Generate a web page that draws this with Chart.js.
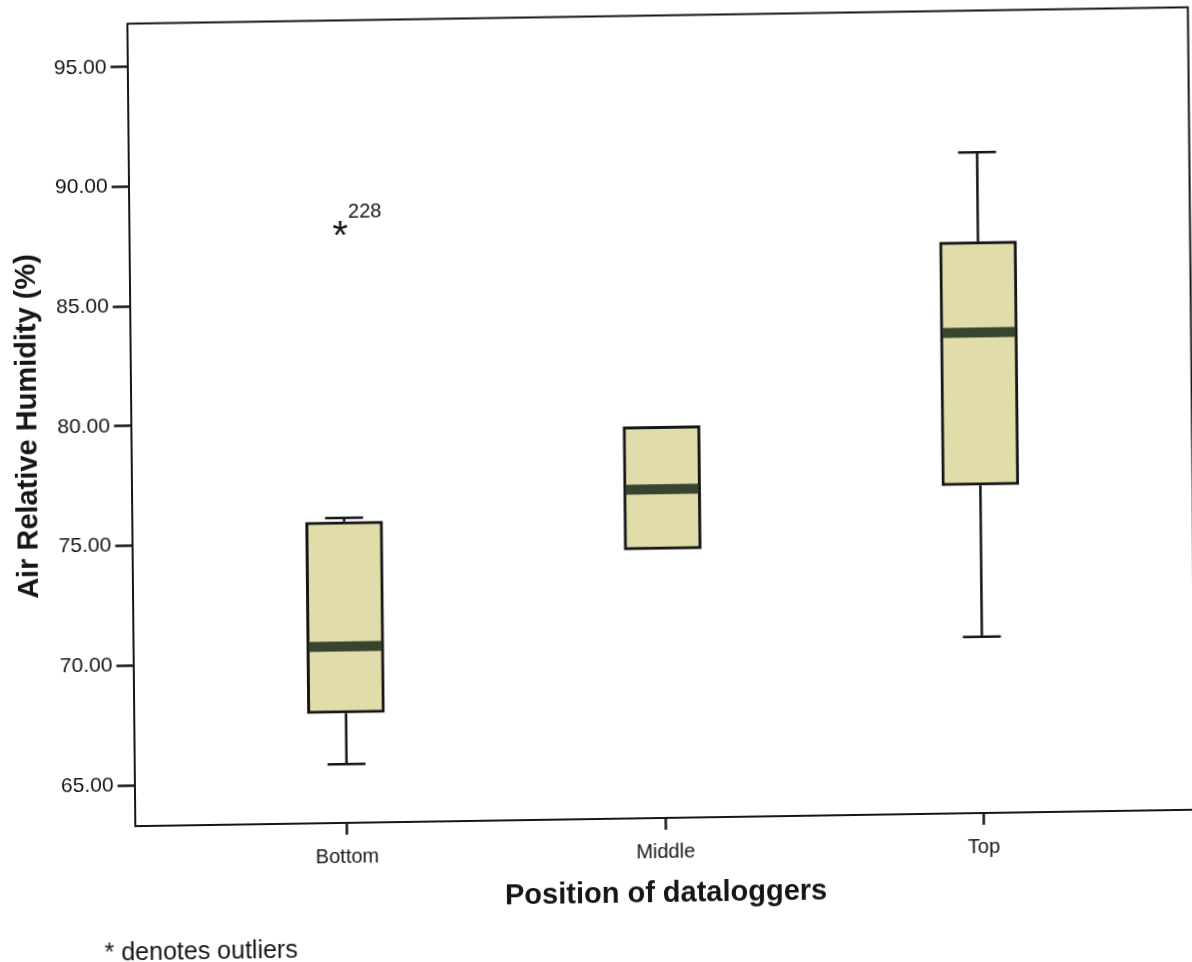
<!DOCTYPE html>
<html><head><meta charset="utf-8">
<script src="https://cdn.jsdelivr.net/npm/chart.js@4.4.1/dist/chart.umd.min.js"></script>
<style>
html,body{margin:0;padding:0;background:#fff;overflow:hidden;width:1192px;height:962px;}
#wrap{position:absolute;left:0;top:0;width:1200px;height:962px;transform-origin:596px 481px;transform:matrix(1,-0.0155,0.0099,1,0,0);}
canvas{display:block;}
</style></head><body>
<div id="wrap"><canvas id="c" width="1200" height="962"></canvas></div>
<script>
// ---- data ----
const categories = ['Bottom', 'Middle', 'Top'];
const whiskerMin = [65.75, 74.51, 70.65];
const q1 = [67.88, 74.51, 76.98];
const median = [70.66, 77.02, 83.36];
const q3 = [75.87, 79.65, 87.15];
const whiskerMax = [76.03, 79.65, 90.88];
const outlierCategory = [0];
const outlierValue = [87.98];
const outlierLabel = ['228'];
const yTicks = [65, 70, 75, 80, 85, 90, 95];
const xTicks = [0, 1, 2];

const FONT = '"Liberation Sans", Arial, Helvetica, sans-serif';
const INK = '#161616';
const BOX_W = 77;
const CAP_W = 38;

const boxPlugin = {
  id: 'boxparts',
  beforeDatasetsDraw(chart) {
    const {ctx, scales: {x, y}} = chart;
    ctx.save();
    ctx.strokeStyle = INK;
    ctx.lineWidth = 2.5;
    categories.forEach((c, i) => {
      const px = x.getPixelForValue(i);
      const segs = [[q3[i], whiskerMax[i]], [q1[i], whiskerMin[i]]];
      segs.forEach(([a, b]) => {
        if (a === b) return;
        const ya = y.getPixelForValue(a), yb = y.getPixelForValue(b);
        ctx.beginPath();
        ctx.moveTo(px, ya); ctx.lineTo(px, yb);
        ctx.moveTo(px - CAP_W / 2, yb); ctx.lineTo(px + CAP_W / 2, yb);
        ctx.stroke();
      });
    });
    ctx.restore();
  },
  afterDatasetsDraw(chart) {
    const {ctx, scales: {x, y}, chartArea: ca} = chart;
    ctx.save();
    // medians
    ctx.fillStyle = '#39442f';
    categories.forEach((c, i) => {
      const px = x.getPixelForValue(i);
      const py = y.getPixelForValue(median[i]);
      ctx.fillRect(px - BOX_W / 2 + 2, py - 5, BOX_W - 4, 10);
    });
    // outliers
    const meta = chart.getDatasetMeta(1);
    meta.data.forEach((pt, i) => {
      ctx.fillStyle = INK;
      ctx.font = '40px ' + FONT;
      ctx.textAlign = 'center';
      ctx.textBaseline = 'alphabetic';
      ctx.fillText('*', pt.x - 1, pt.y + 17);
      ctx.font = '20px ' + FONT;
      ctx.textAlign = 'left';
      ctx.fillText(outlierLabel[i], pt.x + 7, pt.y - 14);
    });
    // frame top/right
    ctx.strokeStyle = INK;
    ctx.lineWidth = 2;
    ctx.beginPath();
    ctx.moveTo(ca.left, ca.top); ctx.lineTo(ca.right, ca.top); ctx.lineTo(ca.right, ca.bottom);
    ctx.stroke();
    ctx.restore();
  },
  afterDraw(chart) {
    const {ctx} = chart;
    ctx.save();
    ctx.fillStyle = INK;
    ctx.font = '25px ' + FONT;
    ctx.textAlign = 'left';
    ctx.textBaseline = 'alphabetic';
    ctx.fillText('* denotes outliers', 100, 953);
    ctx.restore();
  }
};

new Chart(document.getElementById('c'), {
  type: 'bar',
  data: {
    datasets: [{
      type: 'bar',
      data: categories.map((c, i) => ({x: i, y: [q1[i], q3[i]]})),
      backgroundColor: '#e1ddab',
      borderColor: INK,
      borderWidth: 3,
      borderSkipped: false,
      barThickness: BOX_W
    }, {
      type: 'scatter',
      data: outlierCategory.map((c, i) => ({x: c, y: outlierValue[i]})),
      pointRadius: 0,
      pointHoverRadius: 0
    }]
  },
  options: {
    responsive: false,
    devicePixelRatio: 1,
    animation: false,
    layout: {padding: {top: 14.8, right: 7.4, left: 0, bottom: 0}},
    plugins: {legend: {display: false}, tooltip: {enabled: false}},
    scales: {
      x: {
        type: 'linear',
        offset: false,
        min: -2 / 3,
        max: 8 / 3,
        afterBuildTicks: s => { s.ticks = xTicks.map(v => ({value: v})); },
        afterFit: s => { s.height = 143.2; },
        ticks: {
          callback: v => categories[v],
          font: {family: FONT, size: 20},
          color: INK,
          padding: 11,
          maxRotation: 0,
          autoSkip: false
        },
        grid: {offset: false, drawOnChartArea: false, drawTicks: true, tickLength: 12, tickWidth: 2.5, tickColor: INK},
        border: {display: true, color: INK, width: 2},
        title: {
          display: true,
          text: 'Position of dataloggers',
          font: {family: FONT, size: 29, weight: 'bold'},
          color: INK,
          padding: {top: 0, bottom: 49.6}
        }
      },
      y: {
        type: 'linear',
        min: 63.3,
        max: 96.8,
        afterBuildTicks: s => { s.ticks = yTicks.map(v => ({value: v})); },
        afterFit: s => { s.width = 131.6; },
        ticks: {
          callback: v => Number(v).toFixed(2),
          font: {family: FONT, size: 21},
          color: INK,
          padding: 4
        },
        grid: {drawOnChartArea: false, drawTicks: true, tickLength: 17, tickWidth: 2.5, tickColor: INK},
        border: {display: true, color: INK, width: 2},
        title: {
          display: true,
          text: 'Air Relative Humidity (%)',
          font: {family: FONT, size: 29, weight: 'bold'},
          color: INK,
          padding: {top: 11.2, bottom: 0}
        }
      }
    }
  },
  plugins: [boxPlugin]
});
</script>
</body></html>
